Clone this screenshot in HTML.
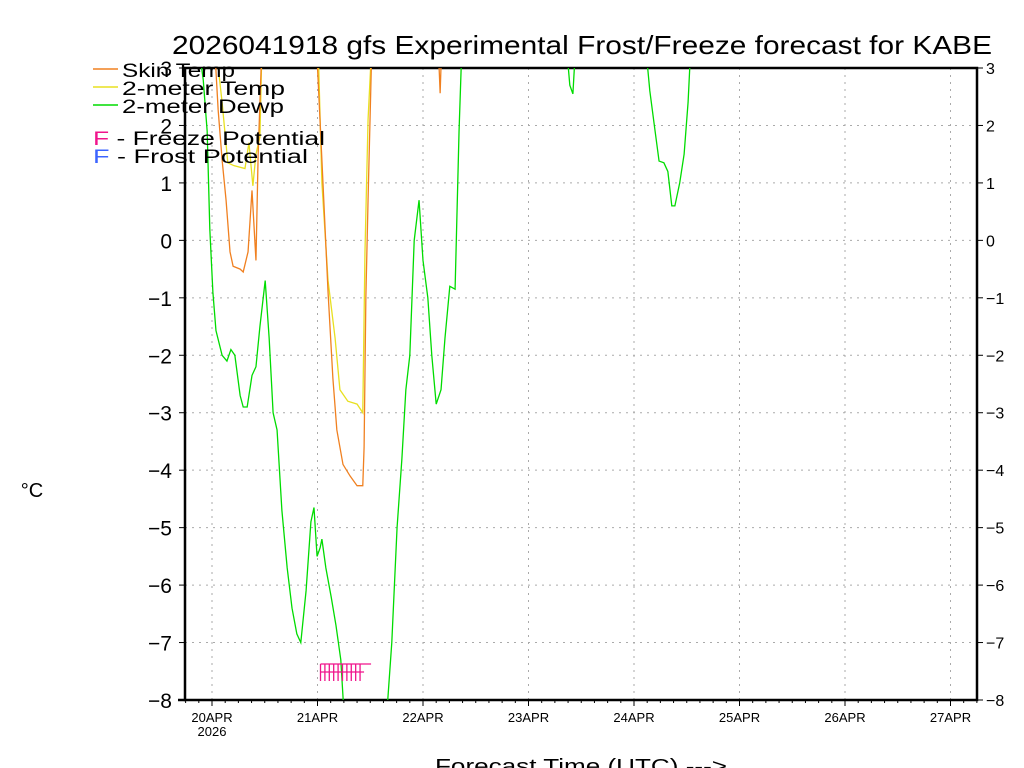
<!DOCTYPE html>
<html><head><meta charset="utf-8"><style>
body{margin:0;background:#fff;width:1024px;height:768px;overflow:hidden}
svg{display:block;font-family:"Liberation Sans",sans-serif}
</style></head><body>
<svg id="chart" width="1024" height="768">
<defs><clipPath id="pc"><rect x="185" y="68" width="792" height="632"/></clipPath></defs>
<text x="172" y="54" font-size="26" textLength="820" lengthAdjust="spacingAndGlyphs">2026041918 gfs Experimental Frost/Freeze forecast for KABE</text>
<text x="32" y="497" font-size="20" text-anchor="middle">°C</text>
<text x="435" y="773" font-size="20" textLength="292" lengthAdjust="spacingAndGlyphs">Forecast Time (UTC) ---&gt;</text>
<g id="grid"></g>
<g id="axes"></g>
<g id="series" clip-path="url(#pc)"></g>
<g id="marks"></g>
<g id="legend">
<line x1="93" y1="69" x2="118" y2="69" stroke="#f08020" stroke-width="1.5"/>
<text x="122" y="77" font-size="19" textLength="113" lengthAdjust="spacingAndGlyphs">Skin Temp</text>
<line x1="93" y1="87" x2="118" y2="87" stroke="#e8e020" stroke-width="1.5"/>
<text x="122" y="95" font-size="19" textLength="163" lengthAdjust="spacingAndGlyphs">2-meter Temp</text>
<line x1="93" y1="105" x2="118" y2="105" stroke="#00dc00" stroke-width="1.5"/>
<text x="122" y="113" font-size="19" textLength="162" lengthAdjust="spacingAndGlyphs">2-meter Dewp</text>
<text x="93" y="145" font-size="19" textLength="232" lengthAdjust="spacingAndGlyphs"><tspan fill="#f0148c">F</tspan> - Freeze Potential</text>
<text x="93" y="163" font-size="19" textLength="215" lengthAdjust="spacingAndGlyphs"><tspan fill="#3c64ff">F</tspan> - Frost Potential</text>
</g>
</svg>
<script>
const dayLabels=["20APR","21APR","22APR","23APR","24APR","25APR","26APR","27APR"];
const yTicks=[3,2,1,0,-1,-2,-3,-4,-5,-6,-7,-8];
const skinH=[0.5,1.4,2.3,3.2,4.1,4.8,6.4,7.1,8.2,9.1,10,10.5,11.4,23.7,25,26.4,27.5,28.4,29.8,31.4,33,34.3,34.6,35,35.5,36.4,51.4,51.9,52.3];
const skinV=[3.5,2.27,1.4,0.7,-0.2,-0.45,-0.5,-0.55,-0.2,0.87,-0.35,1.5,3.5,3.5,1.4,-0.9,-2.4,-3.3,-3.9,-4.1,-4.27,-4.27,-3.6,-1.0,0.7,3.5,3.5,2.56,3.5];
const tempH=[0.7,2.3,3.6,5,7.5,8.4,9.3,10,10.9,11.4,24.1,25,26.4,28,29.1,30.9,33,34.3,34.8,35.5,36.4];
const tempV=[3.5,2.4,1.35,1.3,1.25,1.7,0.95,1.5,1.8,3.5,3.5,1.0,-0.7,-1.7,-2.6,-2.8,-2.85,-3.0,-0.2,2.1,3.5];
const dewH=[-6,-2.7,-2,-1.1,-0.5,0.2,0.9,2.3,3.4,4.3,5.2,6.4,7.1,8,9.1,10,10.9,12.1,13,13.9,14.8,15.9,17.1,18.2,19.3,20.2,21.4,22.5,23.2,23.9,24.6,25,25.9,27.1,28.2,29.3,30,39.8,40.9,42.1,43.2,44.1,45,46,47.1,48,49.1,50,51,52.1,53,54.1,55.3,56.2,56.9,80.5,81.4,82.1,82.8,98.5,99.6,100.8,101.7,102.8,103.7,104.6,105.3,106.4,107.4,108.3,109,180];
const dewV=[3.2,3.2,2.8,1.9,0.2,-0.9,-1.57,-2,-2.1,-1.9,-2,-2.7,-2.9,-2.9,-2.35,-2.2,-1.5,-0.7,-1.7,-3,-3.3,-4.7,-5.7,-6.4,-6.85,-7,-6.1,-4.9,-4.65,-5.5,-5.35,-5.2,-5.7,-6.2,-6.7,-7.3,-8.2,-8.2,-7.0,-5.0,-3.8,-2.6,-2,0,0.7,-0.35,-1,-2,-2.85,-2.6,-1.7,-0.8,-0.85,1.9,3.5,3.5,2.7,2.55,3.5,3.5,2.6,1.9,1.38,1.35,1.2,0.6,0.6,1.0,1.5,2.4,3.5,3.5];
const freezeHours=[24,25,26,27,28,29,30,31,32,33];
const NS="http://www.w3.org/2000/svg";
const X=h=>212+h*105.5/24, Y=v=>68+(3-v)*632/11;
function mk(t,a,p){const e=document.createElementNS(NS,t);for(const k in a)e.setAttribute(k,a[k]);p.appendChild(e);return e;}
const grid=document.getElementById('grid'),axes=document.getElementById('axes'),ser=document.getElementById('series'),marks=document.getElementById('marks');
yTicks.forEach(v=>{
  if(v<3&&v>-8){const g=mk('line',{x1:185,x2:977,y1:Y(v),y2:Y(v),stroke:'#aaa','stroke-dasharray':'2,5'},grid);
  
  }
  const t=mk('text',{x:172,y:Y(v)+8,'font-size':21,'text-anchor':'end'},axes);t.textContent=v<0?'\u2212'+(-v):v;
  
  
  const t2=mk('text',{x:986,y:Y(v)+6,'font-size':16},axes);t2.textContent=v<0?'\u2212'+(-v):v;
  
  
  mk('line',{x1:977,x2:983,y1:Y(v),y2:Y(v),stroke:'#000'},axes);
  mk('line',{x1:179,x2:185,y1:Y(v),y2:Y(v),stroke:'#000'},axes);
});
dayLabels.forEach((d,i)=>{
  const x=X(i*24);
  const g=mk('line',{x1:x,x2:x,y1:68,y2:700,stroke:'#aaa','stroke-dasharray':'2,5'},grid);
  
  
  mk('line',{x1:x,x2:x,y1:700,y2:706,stroke:'#000'},axes);
  const t=mk('text',{x:x,y:722,'font-size':13,'text-anchor':'middle'},axes);t.textContent=d;
  
  
});
for(let h=-6;h<=180;h+=3){const x=X(h);if(x>185&&x<977)mk('line',{x1:x,x2:x,y1:700,y2:703,stroke:'#000'},axes);}
const yr=mk('text',{x:X(0),y:736,'font-size':13,'text-anchor':'middle'},axes);yr.textContent='2026';


mk('rect',{x:185,y:68,width:792,height:632,fill:'none',stroke:'#000','stroke-width':2.5},axes);
mk('line',{x1:178,x2:185,y1:700,y2:700,stroke:'#000','stroke-width':2.5},axes);
function line(H,V,c,name){const p=mk('polyline',{points:H.map((h,i)=>X(h)+','+Y(V[i])).join(' '),fill:'none',stroke:c,'stroke-width':1.3},ser);
  
  }
line(dewH,dewV,'#00dc00','dewpoint-line');
line(tempH,tempV,'#e8e020','temp-line');
line(skinH,skinV,'#f08020','skin-temp-line');
const fx0=X(freezeHours[0])+3,fx1=X(freezeHours[freezeHours.length-1])+3;
mk('line',{x1:fx0,x2:fx1+11,y1:664,y2:664,stroke:'#f0148c',"stroke-width":1.3},marks);
mk('line',{x1:fx0,x2:fx1+4,y1:672,y2:672,stroke:'#f0148c',"stroke-width":1.3},marks);
freezeHours.forEach(h=>{const m=mk('line',{x1:X(h)+3,x2:X(h)+3,y1:664,y2:681,stroke:'#f0148c','stroke-width':1.3},marks);
  
  });
</script>
</body></html>
